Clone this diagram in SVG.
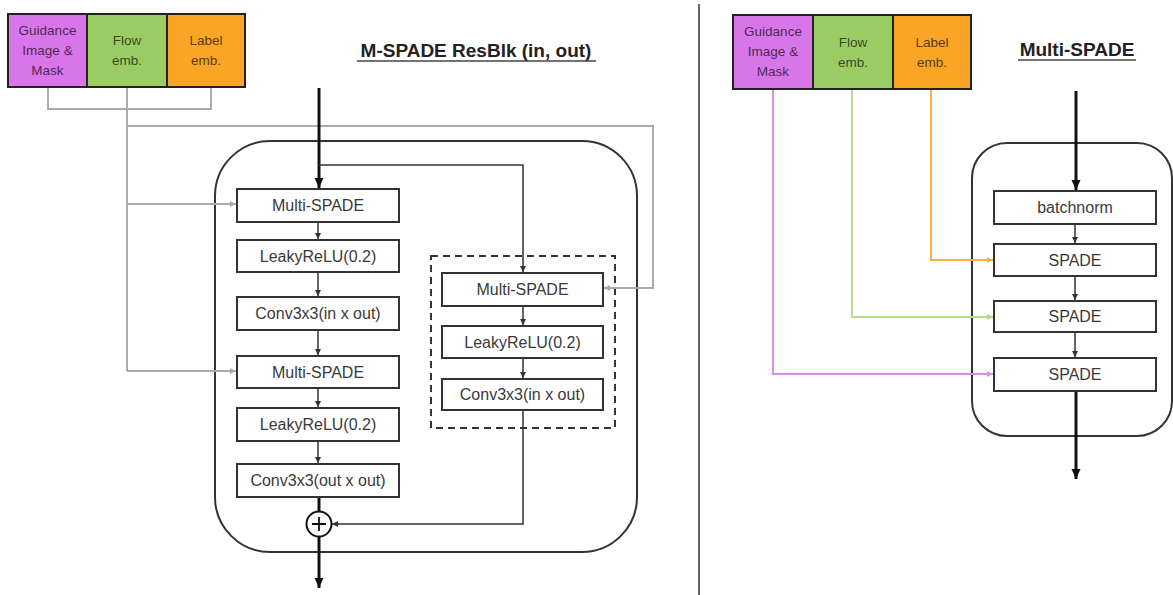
<svg xmlns="http://www.w3.org/2000/svg" width="1173" height="595" viewBox="0 0 1173 595">
<defs>
<marker id="ah" markerUnits="userSpaceOnUse" markerWidth="8" markerHeight="8" refX="6" refY="4" orient="auto"><path d="M0,1 L6,4 L0,7 z" fill="#333"/></marker>
<marker id="ahb" markerUnits="userSpaceOnUse" markerWidth="12" markerHeight="12" refX="10" refY="6" orient="auto"><path d="M0,1.5 L10,6 L0,10.5 z" fill="#111"/></marker>
<marker id="ahg" markerUnits="userSpaceOnUse" markerWidth="8" markerHeight="8" refX="6" refY="4" orient="auto"><path d="M0,1 L6,4 L0,7 z" fill="#aaa"/></marker>
<marker id="ahp" markerUnits="userSpaceOnUse" markerWidth="8" markerHeight="8" refX="6" refY="4" orient="auto"><path d="M0,1 L6,4 L0,7 z" fill="#e08af0"/></marker>
<marker id="ahgr" markerUnits="userSpaceOnUse" markerWidth="8" markerHeight="8" refX="6" refY="4" orient="auto"><path d="M0,1 L6,4 L0,7 z" fill="#b4da8a"/></marker>
<marker id="aho" markerUnits="userSpaceOnUse" markerWidth="8" markerHeight="8" refX="6" refY="4" orient="auto"><path d="M0,1 L6,4 L0,7 z" fill="#f8b040"/></marker>
</defs>
<style>
.box{fill:#fff;stroke:#333;stroke-width:2}
.t{font-family:"Liberation Sans",Arial,sans-serif;font-size:16px;fill:#3a3a3a;text-anchor:middle}
.ct{font-family:"Liberation Sans",Arial,sans-serif;font-size:13.5px;fill:#000;fill-opacity:0.68;text-anchor:middle}
.title{font-family:"Liberation Sans",Arial,sans-serif;font-size:19px;font-weight:bold;fill:#222;text-anchor:middle}
.ul{stroke:#444;stroke-width:1.5}
.c{fill:none;stroke:#333;stroke-width:1.5}
.thick{fill:none;stroke:#111;stroke-width:3}
.g{fill:none;stroke:#aaa;stroke-width:2}
.cp{fill:none;stroke:#e08af0;stroke-width:2}
.cg{fill:none;stroke:#b4da8a;stroke-width:2}
.co{fill:none;stroke:#f8b040;stroke-width:2}
.frame{fill:none;stroke:#333;stroke-width:2}
</style>
<rect width="1173" height="595" fill="#fff"/>

<!-- divider -->
<line x1="699" y1="4" x2="699" y2="595" stroke="#666" stroke-width="2"/>

<!-- titles -->
<g id="title-left">
<text class="title" x="476" y="57">M-SPADE ResBlk (in, out)</text>
<line class="ul" x1="357" y1="61" x2="596" y2="61"/>
</g>
<g id="title-right">
<text class="title" x="1077" y="56">Multi-SPADE</text>
<line class="ul" x1="1018" y1="60" x2="1136" y2="60"/>
</g>

<!-- frames -->
<rect id="resblk-frame" class="frame" x="215" y="141" width="422" height="411" rx="55" ry="55"/>
<rect id="shortcut-frame" x="431" y="256" width="184" height="172" fill="none" stroke="#333" stroke-width="2" stroke-dasharray="7,5"/>
<rect id="multispade-frame" class="frame" x="972" y="143" width="200" height="293" rx="35" ry="35"/>

<!-- connectors -->
<g id="connectors">
<path class="g" d="M48,87 V109 H211 V87"/>
<path class="g" d="M127,87 V371"/>
<path class="g" d="M127,126 H653 V288 H604" marker-end="url(#ahg)"/>
<path class="g" d="M127,204 H236" marker-end="url(#ahg)"/>
<path class="g" d="M127,371 H236" marker-end="url(#ahg)"/>
<path class="thick" d="M319,88 V188" marker-end="url(#ahb)"/>
<path class="c" d="M319,165 H523 V272" marker-end="url(#ah)"/>
<path class="c" d="M318,222 V239" marker-end="url(#ah)"/>
<path class="c" d="M318,272 V296" marker-end="url(#ah)"/>
<path class="c" d="M318,330 V355" marker-end="url(#ah)"/>
<path class="c" d="M318,388 V407" marker-end="url(#ah)"/>
<path class="c" d="M318,441 V463" marker-end="url(#ah)"/>
<path class="thick" d="M319,497 V511"/>
<path class="thick" d="M319,537 V588" marker-end="url(#ahb)"/>
<path class="c" d="M523,306 V325" marker-end="url(#ah)"/>
<path class="c" d="M523,358 V378" marker-end="url(#ah)"/>
<path class="c" d="M523,410 V524 H332" marker-end="url(#ah)"/>
<path class="thick" d="M1076,91 V190" marker-end="url(#ahb)"/>
<path class="c" d="M1075,224 V243" marker-end="url(#ah)"/>
<path class="c" d="M1075,276 V300" marker-end="url(#ah)"/>
<path class="c" d="M1075,332 V357" marker-end="url(#ah)"/>
<path class="thick" d="M1076,391 V479" marker-end="url(#ahb)"/>
<path class="co" d="M931,89 V260 H993" marker-end="url(#aho)"/>
<path class="cg" d="M852,89 V317 H993" marker-end="url(#ahgr)"/>
<path class="cp" d="M773,89 V374 H993" marker-end="url(#ahp)"/>
</g>

<!-- left inputs -->
<g id="guidance-left">
<rect x="8" y="14" width="79" height="73" fill="#d875e8" stroke="#222" stroke-width="2"/>
<text class="ct" x="47.5" y="35">Guidance</text>
<text class="ct" x="47.5" y="55">Image &amp;</text>
<text class="ct" x="47.5" y="75">Mask</text>
</g>
<g id="flow-left">
<rect x="87" y="14" width="80" height="73" fill="#9bcc63" stroke="#222" stroke-width="2"/>
<text class="ct" x="127" y="45">Flow</text>
<text class="ct" x="127" y="65">emb.</text>
</g>
<g id="label-left">
<rect x="167" y="14" width="78" height="73" fill="#f9a525" stroke="#222" stroke-width="2"/>
<text class="ct" x="206" y="45">Label</text>
<text class="ct" x="206" y="65">emb.</text>
</g>

<!-- left column -->
<g id="l-mspade1"><rect class="box" x="237" y="189" width="162" height="33"/><text class="t" x="318" y="211">Multi-SPADE</text></g>
<g id="l-relu1"><rect class="box" x="237" y="240" width="162" height="32"/><text class="t" x="318" y="261.5">LeakyReLU(0.2)</text></g>
<g id="l-conv1"><rect class="box" x="237" y="297" width="162" height="33"/><text class="t" x="318" y="319">Conv3x3(in x out)</text></g>
<g id="l-mspade2"><rect class="box" x="237" y="356" width="162" height="32"/><text class="t" x="318" y="377.5">Multi-SPADE</text></g>
<g id="l-relu2"><rect class="box" x="237" y="408" width="162" height="33"/><text class="t" x="318" y="430">LeakyReLU(0.2)</text></g>
<g id="l-conv2"><rect class="box" x="237" y="464" width="162" height="33"/><text class="t" x="318" y="486">Conv3x3(out x out)</text></g>
<g id="sum"><circle cx="319" cy="524" r="12.5" fill="#fff" stroke="#111" stroke-width="2"/><path d="M312,524 H326 M319,517 V531" stroke="#111" stroke-width="1.8"/></g>

<!-- shortcut column -->
<g id="r-mspade"><rect class="box" x="442" y="273" width="161" height="33"/><text class="t" x="522.5" y="295">Multi-SPADE</text></g>
<g id="r-relu"><rect class="box" x="442" y="326" width="161" height="32"/><text class="t" x="522.5" y="347.5">LeakyReLU(0.2)</text></g>
<g id="r-conv"><rect class="box" x="442" y="379" width="161" height="31"/><text class="t" x="522.5" y="400">Conv3x3(in x out)</text></g>

<!-- right inputs -->
<g id="guidance-right">
<rect x="733" y="15" width="80" height="74" fill="#d875e8" stroke="#222" stroke-width="2"/>
<text class="ct" x="773" y="36">Guidance</text>
<text class="ct" x="773" y="56">Image &amp;</text>
<text class="ct" x="773" y="76">Mask</text>
</g>
<g id="flow-right">
<rect x="813" y="15" width="80" height="74" fill="#9bcc63" stroke="#222" stroke-width="2"/>
<text class="ct" x="853" y="47">Flow</text>
<text class="ct" x="853" y="67">emb.</text>
</g>
<g id="label-right">
<rect x="893" y="15" width="78" height="74" fill="#f9a525" stroke="#222" stroke-width="2"/>
<text class="ct" x="932" y="47">Label</text>
<text class="ct" x="932" y="67">emb.</text>
</g>

<!-- right column -->
<g id="batchnorm"><rect class="box" x="994" y="191" width="162" height="33"/><text class="t" x="1075" y="212.5">batchnorm</text></g>
<g id="spade1"><rect class="box" x="994" y="244" width="162" height="32"/><text class="t" x="1075" y="265.5">SPADE</text></g>
<g id="spade2"><rect class="box" x="994" y="301" width="162" height="31"/><text class="t" x="1075" y="322">SPADE</text></g>
<g id="spade3"><rect class="box" x="994" y="358" width="162" height="33"/><text class="t" x="1075" y="380">SPADE</text></g>
</svg>
